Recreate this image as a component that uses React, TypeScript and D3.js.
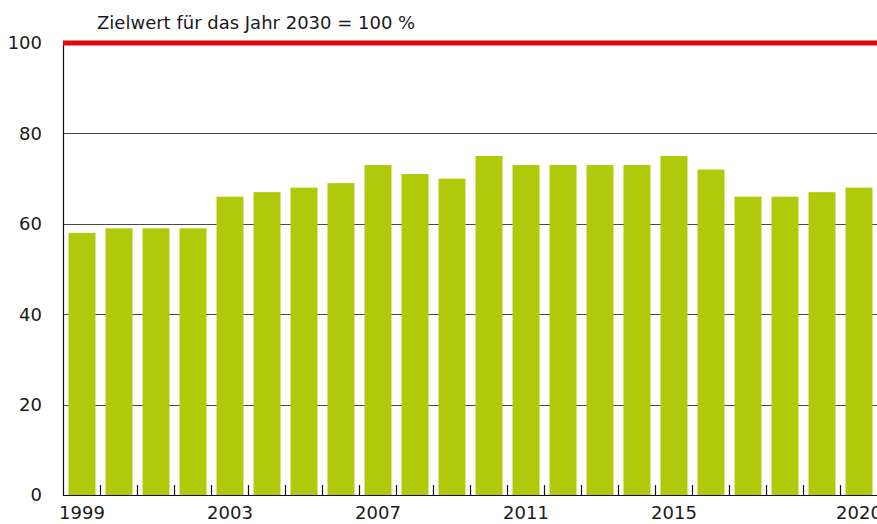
import React, { useEffect, useRef } from "react";
import * as d3 from "d3";

const years = [
  1999, 2000, 2001, 2002, 2003, 2004, 2005, 2006, 2007, 2008, 2009,
  2010, 2011, 2012, 2013, 2014, 2015, 2016, 2017, 2018, 2019, 2020,
];
const values = [58, 59, 59, 59, 66, 67, 68, 69, 73, 71, 70, 75, 73, 73, 73, 73, 75, 72, 66, 66, 67, 68];
const yTicks = [0, 20, 40, 60, 80, 100];
const xLabels = [1999, 2003, 2007, 2011, 2015, 2020];
const target = 100;
const title = "Zielwert für das Jahr 2030 = 100 %";

export default function App() {
  const svgRef = useRef<SVGSVGElement>(null);

  useEffect(() => {
    const width = 877;
    const height = 524;
    const margin = { top: 43, right: 0, bottom: 29, left: 63.5 };

    const svg = d3.select(svgRef.current);
    svg.selectAll("*").remove();
    svg.attr("width", width).attr("height", height);

    const font = "'DejaVu Sans', sans-serif";

    const x = d3
      .scaleBand<number>()
      .domain(years)
      .range([margin.left, margin.left + 814])
      .paddingInner(10 / 37)
      .paddingOuter(5 / 37);

    const y = d3
      .scaleLinear()
      .domain([0, 100])
      .range([height - margin.bottom, margin.top]);

    // gridlines
    svg
      .append("g")
      .selectAll("line")
      .data(yTicks.filter((t) => t > 0 && t < 100))
      .join("line")
      .attr("x1", margin.left)
      .attr("x2", width)
      .attr("y1", (d) => Math.round(y(d)) + 0.5)
      .attr("y2", (d) => Math.round(y(d)) + 0.5)
      .attr("stroke", "#4a4a4a")
      .attr("stroke-width", 1.2);

    // baseline
    svg
      .append("line")
      .attr("x1", margin.left)
      .attr("x2", width)
      .attr("y1", y(0) + 0.5)
      .attr("y2", y(0) + 0.5)
      .attr("stroke", "#111")
      .attr("stroke-width", 1.2);

    // bars
    svg
      .append("g")
      .selectAll("rect")
      .data(values)
      .join("rect")
      .attr("x", (_, i) => x(years[i])!)
      .attr("width", x.bandwidth())
      .attr("y", (d) => y(d))
      .attr("height", (d) => y(0) - y(d))
      .attr("fill", "#b0ca0b");

    // tick marks at band boundaries
    const step = x.step();
    svg
      .append("g")
      .selectAll("line")
      .data(years.slice(1))
      .join("line")
      .attr("x1", (_, i) => margin.left + step * (i + 1))
      .attr("x2", (_, i) => margin.left + step * (i + 1))
      .attr("y1", y(0) - 10)
      .attr("y2", y(0))
      .attr("stroke", "#111")
      .attr("stroke-width", 1.2);

    // y axis line
    svg
      .append("line")
      .attr("x1", margin.left)
      .attr("x2", margin.left)
      .attr("y1", y(100))
      .attr("y2", y(0) + 1)
      .attr("stroke", "#111")
      .attr("stroke-width", 1.2);

    // target line
    svg
      .append("line")
      .attr("x1", margin.left - 0.5)
      .attr("x2", width)
      .attr("y1", y(target))
      .attr("y2", y(target))
      .attr("stroke", "#e30613")
      .attr("stroke-width", 5);

    // y labels
    svg
      .append("g")
      .selectAll("text")
      .data(yTicks)
      .join("text")
      .attr("x", 42)
      .attr("y", (d) => y(d))
      .attr("dy", "0.36em")
      .attr("text-anchor", "end")
      .attr("font-family", font)
      .attr("font-size", 18)
      .attr("fill", "#1a1a1a")
      .text((d) => d);

    // x labels
    svg
      .append("g")
      .selectAll("text")
      .data(xLabels)
      .join("text")
      .attr("x", (d) => x(d)! + x.bandwidth() / 2)
      .attr("y", 519)
      .attr("text-anchor", "middle")
      .attr("font-family", font)
      .attr("font-size", 18)
      .attr("fill", "#1a1a1a")
      .text((d) => d);

    // title
    svg
      .append("text")
      .attr("x", 97)
      .attr("y", 29)
      .attr("font-family", font)
      .attr("font-size", 18)
      .attr("fill", "#1a1a1a")
      .text(title);
  }, []);

  return (
    <svg
      ref={svgRef}
      style={{ position: "absolute", left: 0, top: 0, display: "block", background: "#fff" }}
    ></svg>
  );
}
